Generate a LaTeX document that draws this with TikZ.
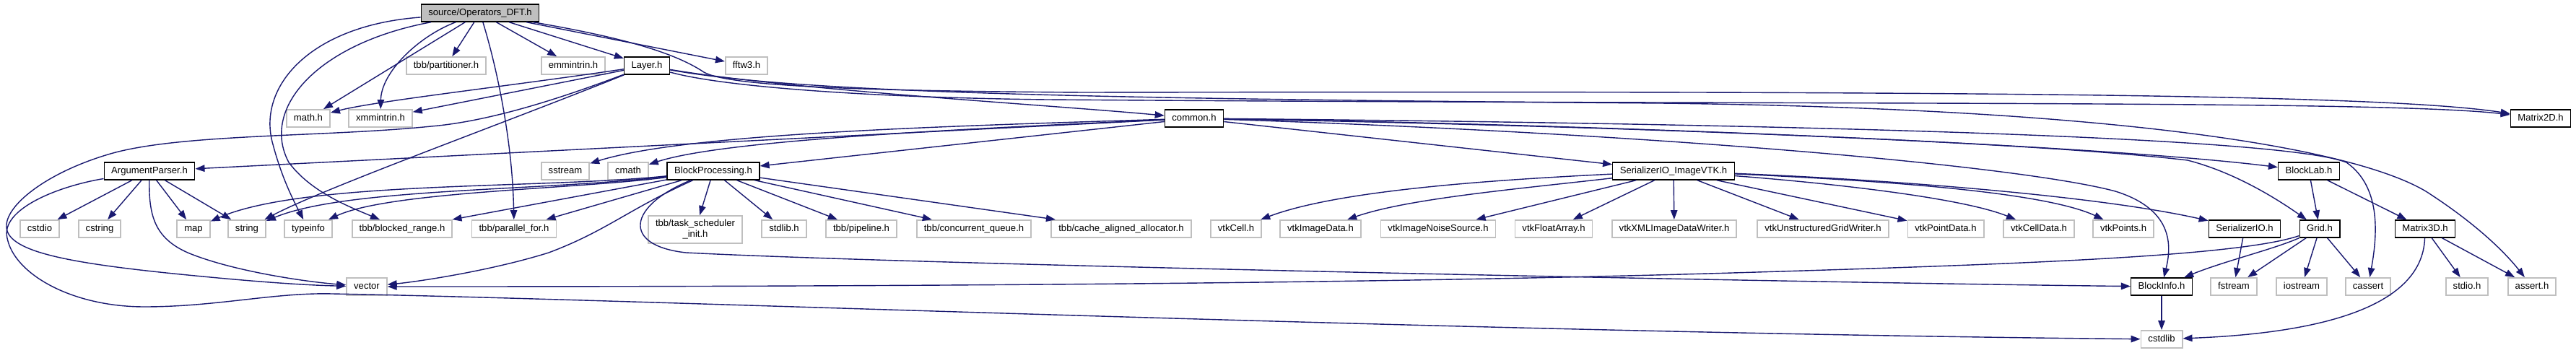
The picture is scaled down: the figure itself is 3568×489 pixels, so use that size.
\documentclass[tikz,border=0pt]{standalone}
\usepackage{fontspec}
\setmainfont{Liberation Sans}
\usetikzlibrary{arrows.meta}
\definecolor{edgec}{HTML}{191970}
\definecolor{greyb}{HTML}{BFBFBF}
\begin{document}
\begin{tikzpicture}[x=1pt,y=-1pt,
  base/.style={rectangle, line width=1.4pt, minimum height=24pt, inner xsep=10pt, inner ysep=0pt,
    text height=9.5pt, text depth=2.7pt, font=\fontsize{13.1}{15}\selectfont, fill=white},
  ext/.style={base, draw=greyb, line width=1.8pt},
  doc/.style={base, draw=black},
  srcbox/.style={base, draw=black, fill=greyb},
  ext2/.style={rectangle, draw=greyb, line width=1.8pt, minimum height=38pt, inner xsep=10pt,
    align=center, font=\fontsize{13.1}{15}\selectfont, fill=white},
  conn/.style={draw=edgec, line width=1.4pt, -{Triangle[length=13pt,width=9.5pt]}}]
\fill[white] (0,0) rectangle (3568,489);
\useasboundingbox (0,0) rectangle (3568,489);

% nodes
\node[srcbox] (src) at (665,18) {source/Operators\_DFT.h};
\node[ext] (part) at (618,91) {tbb/partitioner.h};
\node[ext] (emm) at (794,91) {emmintrin.h};
\node[doc] (layer) at (896,91) {Layer.h};
\node[ext] (fftw) at (1034,91) {fftw3.h};
\node[ext] (math) at (427,164) {math.h};
\node[ext] (xmm) at (527,164) {xmmintrin.h};
\node[doc] (common) at (1654,164) {common.h};
\node[doc] (m2d) at (3519,164) {Matrix2D.h};
\node[doc] (argp) at (207,237) {ArgumentParser.h};
\node[ext] (sstream) at (783,237) {sstream};
\node[ext] (cmath) at (870,237) {cmath};
\node[doc] (bproc) at (988,237) {BlockProcessing.h};
\node[doc] (sivtk) at (2318,237) {SerializerIO\_ImageVTK.h};
\node[doc] (blab) at (3198,237) {BlockLab.h};
\node[ext] (cstdio) at (55,317) {cstdio};
\node[ext] (cstring) at (138,317) {cstring};
\node[ext] (map) at (268,317) {map};
\node[ext] (string) at (342,317) {string};
\node[ext] (typeinfo) at (427,317) {typeinfo};
\node[ext] (brange) at (557,317) {tbb/blocked\_range.h};
\node[ext] (pfor) at (712,317) {tbb/parallel\_for.h};
\node[ext2] (tsi) at (963,318) {tbb/task\_scheduler\\\_init.h};
\node[ext] (stdlibh) at (1086,317) {stdlib.h};
\node[ext] (pipe) at (1193,317) {tbb/pipeline.h};
\node[ext] (cq) at (1349,317) {tbb/concurrent\_queue.h};
\node[ext] (caa) at (1553,317) {tbb/cache\_aligned\_allocator.h};
\node[ext] (vcell) at (1712,317) {vtkCell.h};
\node[ext] (vimg) at (1829,317) {vtkImageData.h};
\node[ext] (vnoise) at (1992,317) {vtkImageNoiseSource.h};
\node[ext] (vfloat) at (2152,317) {vtkFloatArray.h};
\node[ext] (vxml) at (2319,317) {vtkXMLImageDataWriter.h};
\node[ext] (vug) at (2525,317) {vtkUnstructuredGridWriter.h};
\node[ext] (vpd) at (2695,317) {vtkPointData.h};
\node[ext] (vcd) at (2824,317) {vtkCellData.h};
\node[ext] (vpts) at (2941,317) {vtkPoints.h};
\node[doc] (serio) at (3109,317) {SerializerIO.h};
\node[doc] (grid) at (3213,317) {Grid.h};
\node[doc] (m3d) at (3359,317) {Matrix3D.h};
\node[ext] (vector) at (508,397) {vector};
\node[doc] (binfo) at (2994,397) {BlockInfo.h};
\node[ext] (fstream) at (3094,397) {fstream};
\node[ext] (iostream) at (3188,397) {iostream};
\node[ext] (cassert) at (3280,397) {cassert};
\node[ext] (stdio) at (3417,397) {stdio.h};
\node[ext] (asserth) at (3507,397) {assert.h};
\node[ext] (cstdlib) at (2994,470) {cstdlib};

% source edges
\draw[conn] (src) -- (part);
\draw[conn] (src) -- (emm);
\draw[conn] (src) -- (layer);
\draw[conn] (src) -- (fftw);
\draw[conn] (src) -- (math);
\draw[conn] (src) .. controls (580,50) and (528,100) .. (xmm);
\draw[conn] (src) .. controls (430,35) and (355,120) .. (378,200) .. controls (390,245) and (405,275) .. (typeinfo);
\draw[conn] (src) .. controls (440,60) and (360,150) .. (400,225) .. controls (430,265) and (480,285) .. (brange);
\draw[conn] (src) .. controls (690,100) and (710,200) .. (pfor);
\draw[conn] (src) .. controls (850,50) and (930,70) .. (975,100) .. controls (1010,120) and (1200,126) .. (1500,128) .. controls (2700,126) and (3300,130) .. (m2d);

% Layer edges
\draw[conn] (layer) .. controls (700,120) and (520,140) .. (math);
\draw[conn] (layer) -- (xmm);
\draw[conn] (layer) .. controls (700,170) and (450,260) .. (string);
\draw[conn] (layer) .. controls (780,135) and (680,168) .. (597,175) .. controls (450,190) and (250,185) .. (153,213) .. controls (60,240) and (0,290) .. (10,320) .. controls (20,350) and (100,365) .. (250,380) .. controls (350,390) and (420,395) .. (vector);
\draw[conn] (layer) .. controls (1100,125) and (1450,145) .. (common);
\draw[conn] (layer) .. controls (1000,120) and (1200,135) .. (1450,138) .. controls (2500,146) and (3300,138) .. (m2d);
\draw[conn] (layer) .. controls (1100,128) and (1500,137) .. (2300,143) .. controls (2900,150) and (3250,200) .. (3360,265) .. controls (3430,310) and (3470,350) .. (asserth);

% common edges
\draw[conn] (common) -- (argp);
\draw[conn] (common) .. controls (1300,175) and (950,185) .. (sstream);
\draw[conn] (common) .. controls (1300,180) and (1000,195) .. (cmath);
\draw[conn] (common) -- (bproc);
\draw[conn] (common) -- (sivtk);
\draw[conn] (common) .. controls (2300,170) and (3150,185) .. (3250,225) .. controls (3300,260) and (3292,330) .. (cassert);
\draw[conn] (common) .. controls (2200,172) and (2900,200) .. (blab);
\draw[conn] (common) .. controls (2200,174) and (2800,195) .. (3030,222) .. controls (3100,240) and (3160,280) .. (grid);
\draw[conn] (common) .. controls (2300,185) and (2800,230) .. (2930,265) .. controls (3010,290) and (3008,340) .. (binfo);

% ArgumentParser edges
\draw[conn] (argp) -- (cstdio);
\draw[conn] (argp) -- (cstring);
\draw[conn] (argp) -- (map);
\draw[conn] (argp) -- (string);
\draw[conn] (argp) .. controls (206,300) and (215,330) .. (260,350) .. controls (320,375) and (420,390) .. (vector);
\draw[conn] (argp) .. controls (80,258) and (0,290) .. (10,330) .. controls (20,380) and (100,425) .. (200,425) .. controls (300,425) and (380,405) .. (460,407) .. controls (900,415) and (2000,460) .. (cstdlib);

% BlockProcessing edges
\draw[conn] (bproc) .. controls (750,262) and (420,250) .. (map);
\draw[conn] (bproc) .. controls (750,265) and (480,260) .. (string);
\draw[conn] (bproc) .. controls (800,262) and (540,265) .. (typeinfo);
\draw[conn] (bproc) -- (brange);
\draw[conn] (bproc) -- (pfor);
\draw[conn] (bproc) .. controls (870,290) and (840,320) .. (760,350) .. controls (680,375) and (580,390) .. (vector);
\draw[conn] (bproc) -- (tsi);
\draw[conn] (bproc) -- (stdlibh);
\draw[conn] (bproc) -- (pipe);
\draw[conn] (bproc) -- (cq);
\draw[conn] (bproc) -- (caa);
\draw[conn] (bproc) .. controls (870,285) and (860,340) .. (950,350) .. controls (1300,368) and (2600,393) .. (binfo);

% SerializerIO_ImageVTK edges
\draw[conn] (sivtk) .. controls (2050,250) and (1850,265) .. (vcell);
\draw[conn] (sivtk) .. controls (2100,262) and (1950,275) .. (vimg);
\draw[conn] (sivtk) -- (vnoise);
\draw[conn] (sivtk) -- (vfloat);
\draw[conn] (sivtk) -- (vxml);
\draw[conn] (sivtk) -- (vug);
\draw[conn] (sivtk) -- (vpd);
\draw[conn] (sivtk) .. controls (2550,255) and (2720,275) .. (vcd);
\draw[conn] (sivtk) .. controls (2600,250) and (2830,265) .. (vpts);
\draw[conn] (sivtk) .. controls (2600,248) and (2900,270) .. (serio);

% lower edges
\draw[conn] (blab) -- (grid);
\draw[conn] (blab) -- (m3d);
\draw[conn] (grid) .. controls (3100,355) and (2800,366) .. (2400,378) .. controls (1800,396) and (1000,397) .. (vector);
\draw[conn] (grid) .. controls (3150,345) and (3080,362) .. (binfo);
\draw[conn] (grid) -- (fstream);
\draw[conn] (grid) -- (iostream);
\draw[conn] (grid) -- (cassert);
\draw[conn] (serio) -- (fstream);
\draw[conn] (m3d) .. controls (3355,430) and (3200,462) .. (cstdlib);
\draw[conn] (m3d) -- (stdio);
\draw[conn] (m3d) -- (asserth);
\draw[conn] (binfo) -- (cstdlib);
\end{tikzpicture}
\end{document}
